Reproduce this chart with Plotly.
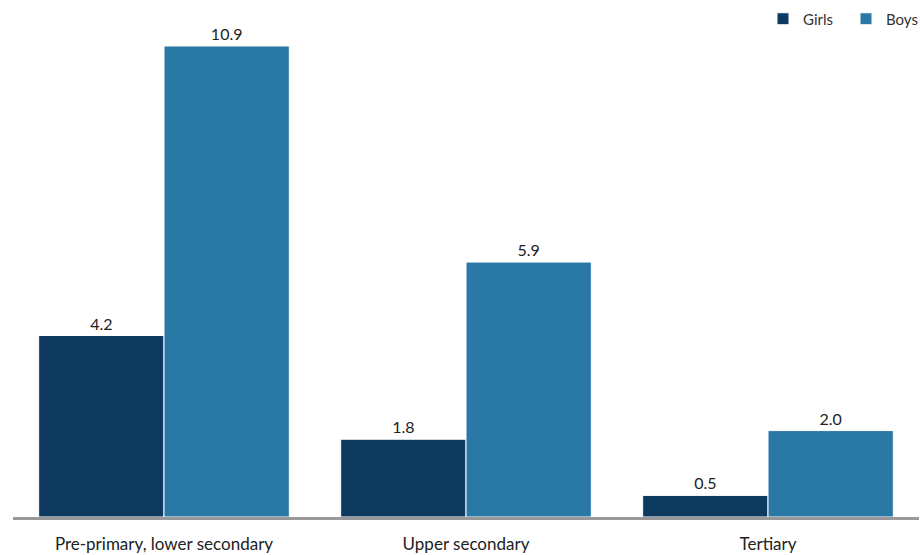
import plotly.graph_objects as go

categories = ["Pre-primary, lower secondary", "Upper secondary", "Tertiary"]
girls = [4.2, 1.8, 0.5]
boys = [10.9, 5.9, 2.0]

font = "Lato, 'Open Sans', sans-serif"

fig = go.Figure()
fig.add_trace(go.Bar(name="Girls", x=categories, y=girls, marker_color="#0d3a5e",
                     marker_line_color="white", marker_line_width=1,
                     text=[f"{v:.1f}" for v in girls], textposition="outside",
                     textfont=dict(size=16, color="#222"), cliponaxis=False))
fig.add_trace(go.Bar(name="Boys", x=categories, y=boys, marker_color="#2a78a6",
                     marker_line_color="white", marker_line_width=1,
                     text=[f"{v:.1f}" for v in boys], textposition="outside",
                     textfont=dict(size=16, color="#222"), cliponaxis=False))

fig.update_layout(
    width=920, height=555,
    margin=dict(l=13, r=1, t=30, b=38, autoexpand=False),
    barmode="group", bargap=0.17, bargroupgap=0,
    plot_bgcolor="white", paper_bgcolor="white",
    font=dict(family=font, size=15, color="#222"),
    showlegend=True,
    legend=dict(orientation="h", xref="container", yref="container",
                x=763 / 920, xanchor="left", y=1 - 19 / 555, yanchor="middle",
                font=dict(size=15, color="#333"), traceorder="normal",
                entrywidth=38, entrywidthmode="pixels"),
    xaxis=dict(showline=True, linecolor="#999", linewidth=3, ticks="",
               tickfont=dict(size=17, color="#222"), ticklabelstandoff=10,
               automargin=False),
    yaxis=dict(range=[0, 11.27], showticklabels=False, showgrid=False, zeroline=False,
               automargin=False),
)

fig.write_html("out.html", config={"displayModeBar": False},
               post_script="document.body.style.margin='0';")
